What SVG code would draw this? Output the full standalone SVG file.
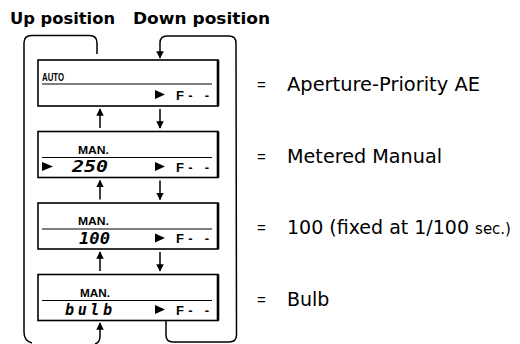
<svg xmlns="http://www.w3.org/2000/svg" width="520" height="344" viewBox="0 0 520 344">
<style>
.title{font-family:"DejaVu Sans",sans-serif;font-weight:bold;font-size:16px;fill:#000}
.desc{font-family:"DejaVu Sans",sans-serif;font-size:19px;fill:#000}
.eq{font-family:"Liberation Sans",Arial,sans-serif;font-size:15px;fill:#000}
.lbl{font-family:"Liberation Sans",Arial,sans-serif;font-weight:bold;font-size:10px;fill:#000}
.lcd{font-family:"DejaVu Sans Mono",monospace;font-style:italic;font-weight:bold;font-size:15px;fill:#000}
.fv{font-family:"Liberation Sans",Arial,sans-serif;font-weight:bold;font-size:13px;fill:#000}
.box{fill:#fff;stroke:#000;stroke-width:1.6}
.edge{stroke:#000;stroke-width:2.6;fill:none}
.div{stroke:#000;stroke-width:1.1}
.tri{fill:#000}
.conn{fill:none;stroke:#000;stroke-width:1.5}
</style>
<defs>
<marker id="ah" viewBox="0 0 10 10" refX="9" refY="5" markerWidth="5" markerHeight="5" orient="auto" markerUnits="strokeWidth">
<path d="M0 0 L10 5 L0 10 Z" fill="#000"/>
</marker>
</defs>

<text class="title" x="10" y="24" textLength="105" lengthAdjust="spacingAndGlyphs">Up position</text>
<text class="title" x="133" y="24" textLength="137" lengthAdjust="spacingAndGlyphs">Down position</text>

<g id="connectors">
<path class="conn" d="M97 54 L97 43 Q97 35.5 89.5 35.5 L31.5 35.5 Q24 35.5 24 43 L24 332 Q24 341 32 343"/>
<path class="conn" d="M95 344 Q100 342.5 100 336 L100 323" marker-end="url(#ah)"/>
<path class="conn" d="M166 321 L166 335 Q166 342 173 342 L229 342 Q236.5 342 236.5 335 L236 43 Q236 36 229 36 L167 36 Q160 36 160 43 L160 58" marker-end="url(#ah)"/>
<line class="conn" x1="100" y1="128" x2="100" y2="109" marker-end="url(#ah)"/>
<line class="conn" x1="160" y1="109" x2="160" y2="128" marker-end="url(#ah)"/>
<line class="conn" x1="100" y1="199.5" x2="100" y2="180.5" marker-end="url(#ah)"/>
<line class="conn" x1="160" y1="180.5" x2="160" y2="199.5" marker-end="url(#ah)"/>
<line class="conn" x1="100" y1="271" x2="100" y2="252" marker-end="url(#ah)"/>
<line class="conn" x1="160" y1="252" x2="160" y2="271" marker-end="url(#ah)"/>
</g>

<g id="node-auto">
<rect class="box" x="38" y="60" width="180" height="46"/>
<line class="edge" x1="218" y1="60" x2="218" y2="106"/>
<text class="lbl" x="42" y="81" textLength="22" lengthAdjust="spacingAndGlyphs">AUTO</text>
<line class="div" x1="42" y1="84" x2="212" y2="84"/>
<path class="tri" d="M155 90 L165 94.5 L155 99 Z"/>
<text class="fv" x="176" y="99.5" textLength="33" lengthAdjust="spacing">F- -</text>
<text class="eq" x="257" y="90">=</text>
<text class="desc" x="287" y="91" textLength="193" lengthAdjust="spacingAndGlyphs">Aperture-Priority AE</text>
</g>

<g id="node-manual">
<rect class="box" x="38" y="131.5" width="180" height="46"/>
<line class="edge" x1="218" y1="131.5" x2="218" y2="177.5"/>
<text class="lbl" x="78" y="153.5" textLength="31" lengthAdjust="spacingAndGlyphs">MAN.</text>
<line class="div" x1="42" y1="157.5" x2="212" y2="157.5"/>
<path class="tri" d="M42 162 L53 166.5 L42 171 Z"/>
<text class="lcd" x="72" y="172" textLength="36" lengthAdjust="spacingAndGlyphs">250</text>
<path class="tri" d="M155 162 L165 166.5 L155 171 Z"/>
<text class="fv" x="176" y="171.5" textLength="33" lengthAdjust="spacing">F- -</text>
<text class="eq" x="257" y="161.5">=</text>
<text class="desc" x="287" y="162.5" textLength="155" lengthAdjust="spacingAndGlyphs">Metered Manual</text>
</g>

<g id="node-100">
<rect class="box" x="38" y="203" width="180" height="46"/>
<line class="edge" x1="218" y1="203" x2="218" y2="249"/>
<text class="lbl" x="78" y="225" textLength="31" lengthAdjust="spacingAndGlyphs">MAN.</text>
<line class="div" x1="42" y1="229" x2="212" y2="229"/>
<text class="lcd" x="79" y="243.5" textLength="31" lengthAdjust="spacingAndGlyphs">100</text>
<path class="tri" d="M155 233.5 L165 238 L155 242.5 Z"/>
<text class="fv" x="176" y="243" textLength="33" lengthAdjust="spacing">F- -</text>
<text class="eq" x="257" y="233">=</text>
<text class="desc" x="287" y="234"><tspan>100 (fixed at 1/100 </tspan><tspan font-size="15">sec.)</tspan></text>
</g>

<g id="node-bulb">
<rect class="box" x="38" y="274.5" width="180" height="46"/>
<line class="edge" x1="218" y1="274.5" x2="218" y2="320.5"/>
<text class="lbl" x="80" y="296.5" textLength="30" lengthAdjust="spacingAndGlyphs">MAN.</text>
<line class="div" x1="42" y1="300.5" x2="212" y2="300.5"/>
<text class="lcd" x="65" y="315" textLength="47" lengthAdjust="spacing">bulb</text>
<path class="tri" d="M155 305 L165 309.5 L155 314 Z"/>
<text class="fv" x="176" y="314.5" textLength="33" lengthAdjust="spacing">F- -</text>
<text class="eq" x="257" y="304.5">=</text>
<text class="desc" x="287" y="305.5">Bulb</text>
</g>
</svg>
